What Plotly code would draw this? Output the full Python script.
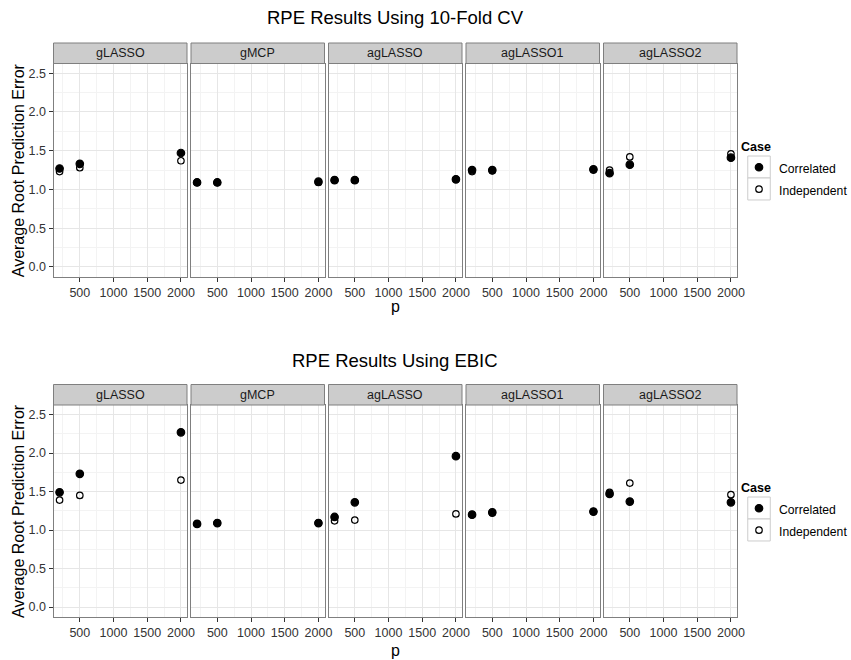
import plotly.graph_objects as go

# ---- data -------------------------------------------------------------
methods = ["gLASSO", "gMCP", "agLASSO", "agLASSO1", "agLASSO2"]
p_values = [200, 500, 2000]
cases = ["Correlated", "Independent"]

# RPE with 10-fold cross validation
cv_correlated = {
    "gLASSO":   [1.27, 1.33, 1.47],
    "gMCP":     [1.09, 1.09, 1.10],
    "agLASSO":  [1.12, 1.12, 1.13],
    "agLASSO1": [1.25, 1.25, 1.26],
    "agLASSO2": [1.21, 1.32, 1.41],
}
cv_independent = {
    "gLASSO":   [1.23, 1.28, 1.37],
    "gMCP":     [1.09, 1.09, 1.09],
    "agLASSO":  [1.12, 1.12, 1.13],
    "agLASSO1": [1.23, 1.24, 1.25],
    "agLASSO2": [1.25, 1.42, 1.46],
}

# RPE with EBIC
ebic_correlated = {
    "gLASSO":   [1.49, 1.73, 2.27],
    "gMCP":     [1.08, 1.09, 1.09],
    "agLASSO":  [1.17, 1.36, 1.96],
    "agLASSO1": [1.20, 1.23, 1.24],
    "agLASSO2": [1.47, 1.37, 1.36],
}
ebic_independent = {
    "gLASSO":   [1.39, 1.45, 1.65],
    "gMCP":     [1.08, 1.09, 1.09],
    "agLASSO":  [1.12, 1.13, 1.21],
    "agLASSO1": [1.20, 1.22, 1.24],
    "agLASSO2": [1.49, 1.61, 1.46],
}

titles = ["RPE Results Using 10-Fold CV", "RPE Results Using EBIC"]
x_ticks = [500, 1000, 1500, 2000]
x_minor = [250, 750, 1250, 1750]
y_ticks = [0.0, 0.5, 1.0, 1.5, 2.0, 2.5]
y_minor = [0.25, 0.75, 1.25, 1.75, 2.25]

# ---- layout geometry (pixels) -----------------------------------------
W, H = 851, 660
FONT = "Liberation Sans, Arial, sans-serif"
panel_left0, panel_step, panel_w = 53.5, 137.5, 133.5
rows = [
    # strip top, panel top, panel bottom, title y, x-title y, legend top
    dict(strip=43, top=63.5, bottom=277, title=17, xtitle=307, legend_y=135),
    dict(strip=384.5, top=405, bottom=617, title=360, xtitle=650, legend_y=476),
]
x_range = [110, 2090]
y_range = [-0.13, 2.625]

LEGEND_X = 739          # left edge of the legend box
LEGEND_FONT = 14.6      # sets the legend row pitch
LEGEND_TEXT = 12.2      # size the labels are drawn at
ROW_PITCH = LEGEND_FONT * 1.3 + 3
KEY_W = 22.5


def px(x):
    return x / W


def py(y):
    return 1 - y / H


fig = go.Figure()
shapes, annotations = [], []
blocks = [(cv_correlated, cv_independent), (ebic_correlated, ebic_independent)]

n = 0
for r, (corr, indep) in enumerate(blocks):
    geo = rows[r]
    legend_name = "legend" if r == 0 else "legend2"
    for c, m in enumerate(methods):
        n += 1
        x0 = panel_left0 + c * panel_step
        x1 = x0 + panel_w
        xa, ya = f"x{n}", f"y{n}"

        for case, vals, sym, size in (
            ("Correlated", corr[m], "circle", 7.5),
            ("Independent", indep[m], "circle-open", 6.5),
        ):
            fig.add_trace(go.Scatter(
                x=p_values, y=vals, mode="markers",
                name=f"<span style='font-size:{LEGEND_TEXT}px'>{case}</span>",
                xaxis=xa, yaxis=ya, legend=legend_name,
                legendgroup=f"{case}{r}", showlegend=(c == 0),
                marker=dict(symbol=sym, size=size, color="black",
                            line=dict(color="black", width=1.2)),
                hovertemplate=f"{m}<br>p=%{{x}}<br>RPE=%{{y}}<extra>{case}</extra>",
            ))

        axis_common = dict(
            showline=True, mirror=True, linecolor="#7F7F7F", linewidth=1,
            zeroline=False, showgrid=True, gridcolor="#E6E6E6", gridwidth=1.2,
            ticks="outside", ticklen=4, tickwidth=1, tickcolor="#333333",
            tickfont=dict(family=FONT, size=12.5, color="#333333"),
            fixedrange=True,
        )
        fig.layout[f"xaxis{n}"] = dict(
            axis_common, domain=[px(x0), px(x1)], anchor=ya, range=x_range,
            tickmode="array", tickvals=x_ticks,
            minor=dict(tickmode="array", tickvals=x_minor, showgrid=True,
                       gridcolor="#F3F3F3", gridwidth=1, ticks=""),
        )
        yopts = dict(
            axis_common, domain=[py(geo["bottom"]), py(geo["top"])],
            anchor=xa, range=y_range, tickmode="array", tickvals=y_ticks,
            tickformat=".1f",
            minor=dict(tickmode="array", tickvals=y_minor, showgrid=True,
                       gridcolor="#F3F3F3", gridwidth=1, ticks=""),
        )
        if c > 0:
            yopts.update(showticklabels=False, ticks="")
        fig.layout[f"yaxis{n}"] = yopts

        # facet strip
        shapes.append(dict(
            type="rect", xref="paper", yref="paper",
            x0=px(x0), x1=px(x1), y0=py(geo["top"]), y1=py(geo["strip"]),
            fillcolor="#CCCCCC", line=dict(color="#7F7F7F", width=1),
        ))
        annotations.append(dict(
            text=m, xref="paper", yref="paper", showarrow=False,
            x=px((x0 + x1) / 2), y=py((geo["strip"] + geo["top"]) / 2),
            xanchor="center", yanchor="middle",
            font=dict(family=FONT, size=12.5, color="#1A1A1A"),
        ))

    panels_mid = panel_left0 + (4 * panel_step + panel_w) / 2
    # plot title
    annotations.append(dict(
        text=titles[r], xref="paper", yref="paper", showarrow=False,
        x=px(panels_mid), y=py(geo["title"]), xanchor="center", yanchor="middle",
        font=dict(family=FONT, size=18.5, color="black"),
    ))
    # axis titles
    annotations.append(dict(
        text="p", xref="paper", yref="paper", showarrow=False,
        x=px(panels_mid), y=py(geo["xtitle"]), xanchor="center", yanchor="middle",
        font=dict(family=FONT, size=16, color="black"),
    ))
    annotations.append(dict(
        text="Average Root Prediction Error", xref="paper", yref="paper",
        showarrow=False, textangle=-90,
        x=px(18), y=py((geo["top"] + geo["bottom"]) / 2),
        xanchor="center", yanchor="middle",
        font=dict(family=FONT, size=16, color="black"),
    ))

    # light boxes behind the legend keys
    first_row = geo["legend_y"] + 32
    for i in range(len(cases)):
        cy = first_row + i * ROW_PITCH
        shapes.append(dict(
            type="rect", xref="paper", yref="paper", layer="below",
            x0=px(LEGEND_X + 20 - KEY_W / 2), x1=px(LEGEND_X + 20 + KEY_W / 2),
            y0=py(cy + ROW_PITCH / 2), y1=py(cy - ROW_PITCH / 2),
            fillcolor="white", line=dict(color="#CCCCCC", width=1),
        ))

legend_style = dict(
    title=dict(text="<b>Case</b>", font=dict(family=FONT, size=12.5, color="black")),
    font=dict(family=FONT, size=LEGEND_FONT, color="black"),
    bgcolor="rgba(0,0,0,0)", borderwidth=0,
    xref="container", yref="container",
    xanchor="left", yanchor="top", itemclick=False, itemdoubleclick=False,
    tracegroupgap=0,
)
fig.update_layout(
    width=W, height=H, autosize=False,
    margin=dict(l=0, r=0, t=0, b=0, autoexpand=False),
    paper_bgcolor="white", plot_bgcolor="white",
    shapes=shapes, annotations=annotations,
    legend=dict(legend_style, x=px(LEGEND_X), y=py(rows[0]["legend_y"])),
    legend2=dict(legend_style, x=px(LEGEND_X), y=py(rows[1]["legend_y"])),
    font=dict(family=FONT),
)

fig.write_html(
    "out.html",
    config={"responsive": False},
    post_script="document.body.style.margin='0px';document.body.style.overflow='hidden';",
)
